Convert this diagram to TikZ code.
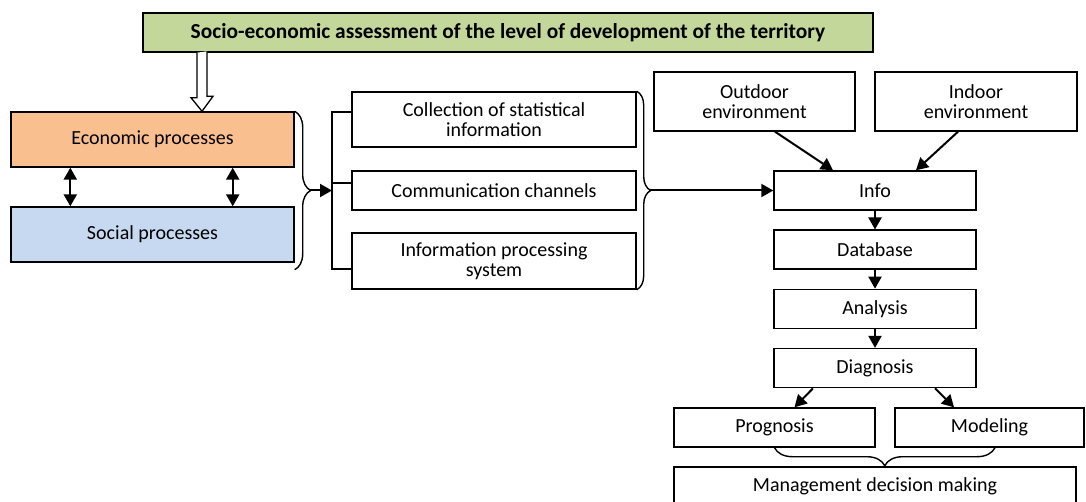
\documentclass[tikz,border=0pt]{standalone}
\usepackage{fontspec}
\setmainfont{Carlito}
\usetikzlibrary{arrows.meta,decorations.pathreplacing,calc}

\begin{document}
\begin{tikzpicture}[x=1pt,y=-1pt,font=\fontsize{20}{20.5}\selectfont,
	box/.style={draw,line width=1.4pt,minimum height=39pt,inner sep=2pt,align=center},
	arr/.style={line width=2pt,-{Triangle[length=12pt,width=13pt]}},
	dbl/.style={line width=2.2pt,{Triangle[length=12pt,width=13pt]}-{Triangle[length=12pt,width=13pt]}},
	curly/.style={decorate,decoration={brace,amplitude=#1},line width=1.4pt}]
		%%% Colores
		\definecolor{titlegreen}{RGB}{196,215,155} % verde claro
		\definecolor{econorange}{RGB}{250,191,143} % naranja claro
		\definecolor{socialblue}{RGB}{198,217,241} % azul claro

		\clip (0,0) rectangle (1086,502);

		%%% Cabecera
		\node[box,fill=titlegreen,minimum width=730pt,font=\fontsize{21.4}{22}\selectfont\bfseries] (title) at (508,32.5)
			{Socio-economic assessment of the level of development of the territory};

		%%% Procesos
		\node[box,fill=econorange,minimum width=283pt,minimum height=55pt] (econ) at (152.5,139.5) {\raisebox{3pt}{Economic processes}};
		\node[box,fill=socialblue,minimum width=283pt,minimum height=55pt] (social) at (152.5,234.5) {\raisebox{3pt}{Social processes}};

		% Flecha hueca desde la cabecera
		\coordinate (hc) at (202,0);
		\draw[line width=1.3pt,fill=white] (hc |- title.south) ++(-5,0) -- ++(0,45) -- ++(-6,0)
			-- (hc |- econ.north) -- ++(11,-15) -- ++(-6,0) -- ++(0,-45);

		\draw[dbl] ($(econ.south west)+(60,0)$) -- ($(social.north west)+(60,0)$);
		\draw[dbl] ($(econ.south east)+(-62,0)$) -- ($(social.north east)+(-62,0)$);

		%%% Columna central
		\node[box,minimum width=284pt,minimum height=55pt] (coll) at (494,119.5) {Collection of statistical\\information};
		\node[box,minimum width=284pt] (comm) at (494,190.5) {Communication channels};
		\node[box,minimum width=284pt,minimum height=56pt] (proc) at (494,261) {Information processing\\system};

		% Llave y corchete
		\draw[curly=16pt] (econ.north east) -- ($(social.south east)+(0,7)$);
		\coordinate (tipA) at (310,190.5);
		\coordinate (fork) at (332,190.5);
		\coordinate (bartop) at (332,112);
		\coordinate (barbot) at (332,269);
		\draw[arr] (tipA) -- (fork);
		\draw[line width=1.4pt] (bartop -| coll.west) -- (bartop) -- (barbot) -- (barbot -| proc.west);
		\draw[line width=1.4pt] ($(comm.west)+(0,-7.5)$) -- ++(-20,0);

		\draw[curly=14pt] (coll.north east) -- (proc.south east);
		\coordinate (tipB) at (650,190.5);

		%%% Columna derecha
		\node[box,minimum width=201pt,minimum height=59pt] (outdoor) at (754.5,101.5) {Outdoor\\environment};
		\node[box,minimum width=202pt,minimum height=59pt] (indoor) at (976,101.5) {Indoor\\environment};

		\foreach \name/\lab [count=\i from 0] in {info/Info,db/Database,analysis/Analysis,diag/Diagnosis} {
			\node[box,minimum width=202pt] (\name) at (875,190.5+59.2*\i) {\lab};
		}
		\foreach \a/\b in {info/db,db/analysis,analysis/diag} {
			\draw[arr] (\a) -- (\b);
		}

		\draw[arr] (tipB) -- (info.west);
		\draw[arr] ($(outdoor.south)+(20.5,0)$) -- ($(info.north)+(-42,0)$);
		\draw[arr] ($(indoor.south)+(-18,0)$) -- ($(info.north)+(41,0)$);

		\node[box,minimum width=201pt] (prog) at (774.5,427.5) {Prognosis};
		\node[box,minimum width=189pt] (model) at (989.5,427.5) {Modeling};
		\node[box,minimum width=402pt] (mgmt) at (875,486.5) {Management decision making};

		\draw[arr] ($(diag.south)+(-62,0)$) -- ($(prog.north)+(20,0)$);
		\draw[arr] ($(diag.south)+(60,0)$) -- ($(model.north)+(-35.5,0)$);

		\draw[curly=18pt] ($(model.south)+(5.5,0)$) -- (prog.south);
	\end{tikzpicture}
\end{document}
